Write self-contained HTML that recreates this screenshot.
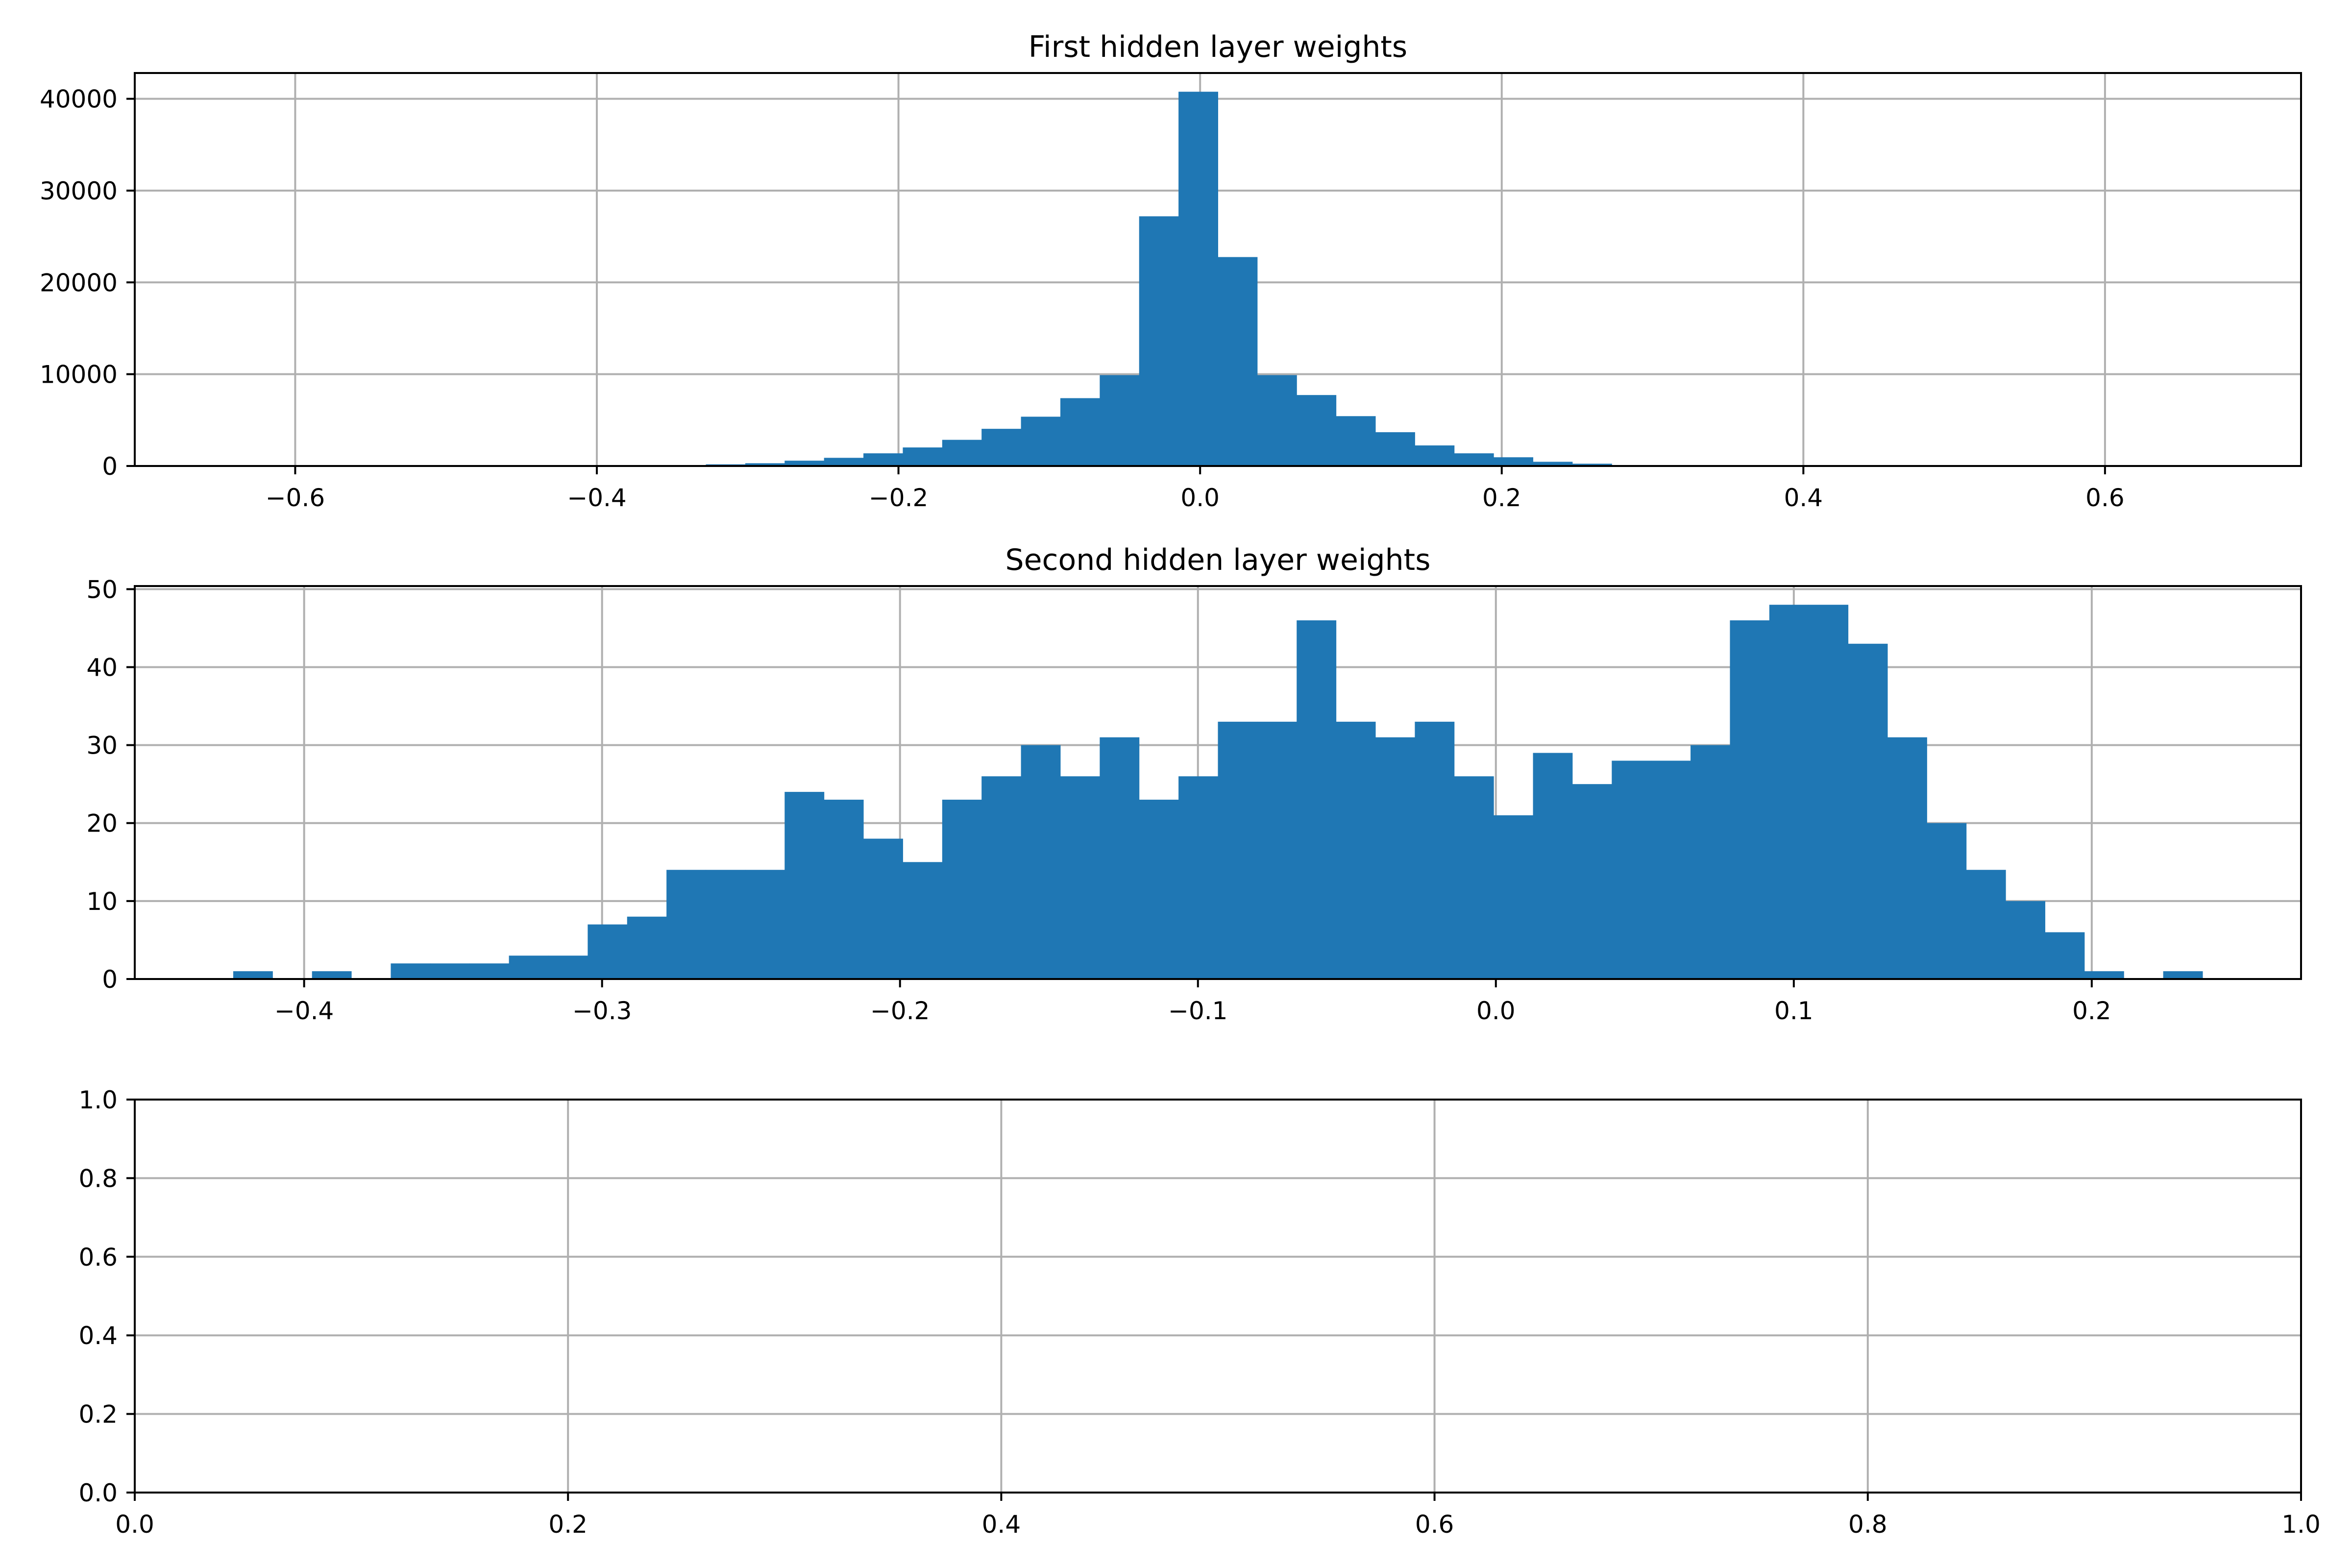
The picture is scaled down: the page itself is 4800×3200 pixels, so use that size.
<!DOCTYPE html>
<html><head><meta charset="utf-8"><style>
html,body{margin:0;padding:0;background:#fff;}
svg{display:block;font-family:"DejaVu Sans","Liberation Sans",sans-serif;}
</style></head><body>
<svg id="fig" xmlns="http://www.w3.org/2000/svg" width="4800" height="3200" viewBox="0 0 4800 3200">
<rect width="4800" height="3200" fill="#fff"/>
</svg>
<script>
const h1Counts=[1,0,0,0,2,3,5,10,20,40,60,100,180,300,580,890,1380,2020,2850,4050,5370,7390,9900,27200,40770,22760,9900,7730,5430,3680,2240,1380,950,460,250,100,50,25,12,6,3,2,1,0,0,0,0,0,0,1];
const h1Min=-0.6411, h1Max=0.6647;
const h1XTicks=[-0.6,-0.4,-0.2,0.0,0.2,0.4,0.6];
const h1XLabels=["\u22120.6","\u22120.4","\u22120.2","0.0","0.2","0.4","0.6"];
const h1YTicks=[0,10000,20000,30000,40000];
const h1YLabels=["0","10000","20000","30000","40000"];
const h2Counts=[1,0,1,0,2,2,2,3,3,7,8,14,14,14,24,23,18,15,23,26,30,26,31,23,26,33,33,46,33,31,33,26,21,29,25,28,28,30,46,48,48,43,31,20,14,10,6,1,0,1];
const h2Min=-0.4238, h2Max=0.2372;
const h2XTicks=[-0.4,-0.3,-0.2,-0.1,0.0,0.1,0.2];
const h2XLabels=["\u22120.4","\u22120.3","\u22120.2","\u22120.1","0.0","0.1","0.2"];
const h2YTicks=[0,10,20,30,40,50];
const h2YLabels=["0","10","20","30","40","50"];
const h3XTicks=[0,0.2,0.4,0.6,0.8,1.0];
const h3XLabels=["0.0","0.2","0.4","0.6","0.8","1.0"];
const h3YTicks=[0,0.2,0.4,0.6,0.8,1.0];
const h3YLabels=["0.0","0.2","0.4","0.6","0.8","1.0"];

const NS="http://www.w3.org/2000/svg";
const svg=document.getElementById('fig');
function mk(tag,attrs,parent){const e=document.createElementNS(NS,tag);for(const k in attrs)e.setAttribute(k,attrs[k]);(parent||svg).appendChild(e);return e;}
const L=275,R=4696,FS=50,TK=17,LW=4;
function axes(name,top,bottom,xlim,ylim,xt,xl,yt,yl,counts,bmin,bmax,title){
  const g=mk('g',{});
  
  
  const sx=v=>L+(v-xlim[0])/(xlim[1]-xlim[0])*(R-L);
  const sy=v=>bottom-(v-ylim[0])/(ylim[1]-ylim[0])*(bottom-top);
  xt.forEach((v,i)=>{const l=mk('line',{x1:sx(v),x2:sx(v),y1:top,y2:bottom,stroke:'#b0b0b0','stroke-width':LW},g);
    
    });
  yt.forEach((v,i)=>{const l=mk('line',{x1:L,x2:R,y1:sy(v),y2:sy(v),stroke:'#b0b0b0','stroke-width':LW},g);
    
    });
  if(counts){
    const w=(bmax-bmin)/counts.length;
    counts.forEach((c,i)=>{if(c<=0)return;
      const x0=sx(bmin+i*w),x1=sx(bmin+(i+1)*w);
      const r=mk('rect',{x:x0,y:sy(c),width:x1-x0+0.5,height:sy(0)-sy(c),fill:'#1f77b4'},g);
      
      });
  }
  const sp=mk('rect',{x:L,y:top,width:R-L,height:bottom-top,fill:'none',stroke:'#000','stroke-width':LW},g);
  
  
  xt.forEach((v,i)=>{
    mk('line',{x1:sx(v),x2:sx(v),y1:bottom,y2:bottom+TK,stroke:'#000','stroke-width':LW},g);
    const t=mk('text',{x:sx(v),y:bottom+82,'font-size':FS,'text-anchor':'middle',fill:'#000'},g);
    
    
    t.textContent=xl[i];});
  yt.forEach((v,i)=>{
    mk('line',{x1:L-TK,x2:L,y1:sy(v),y2:sy(v),stroke:'#000','stroke-width':LW},g);
    const t=mk('text',{x:L-35,y:sy(v)+18,'font-size':FS,'text-anchor':'end',fill:'#000'},g);
    
    
    t.textContent=yl[i];});
  if(title){const t=mk('text',{x:(L+R)/2,y:top-33,'font-size':60,'text-anchor':'middle',fill:'#000'},g);
    
    
    t.textContent=title;}
}
function lim(a,b){const m=(b-a)*0.05;return [a-m,b+m];}
const m1=Math.max(...h1Counts), m2=Math.max(...h2Counts);
axes('first-layer-histogram',149,951,lim(h1Min,h1Max),[0,m1*1.05],h1XTicks,h1XLabels,h1YTicks,h1YLabels,h1Counts,h1Min,h1Max,'First hidden layer weights');
axes('second-layer-histogram',1196,1998,lim(h2Min,h2Max),[0,m2*1.05],h2XTicks,h2XLabels,h2YTicks,h2YLabels,h2Counts,h2Min,h2Max,'Second hidden layer weights');
axes('empty-axes',2244,3046,[0,1],[0,1],h3XTicks,h3XLabels,h3YTicks,h3YLabels,null,0,0,null);
</script>
</body></html>
